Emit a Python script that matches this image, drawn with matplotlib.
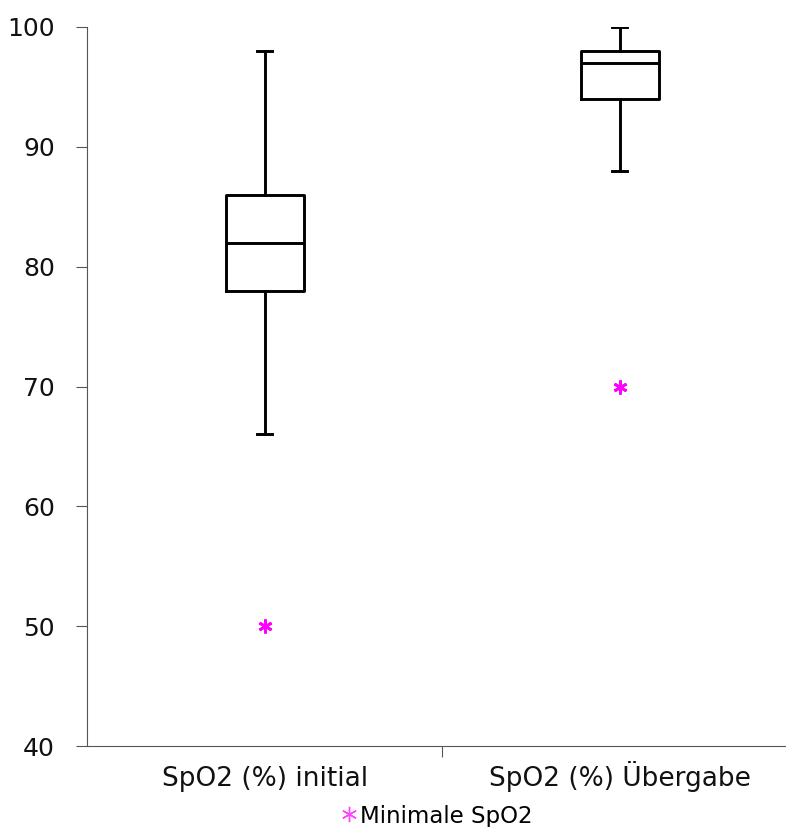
import matplotlib
matplotlib.use("Agg")
import matplotlib.pyplot as plt
import matplotlib.transforms as mtransforms
from matplotlib.lines import Line2D

plt.rcParams['font.family'] = ['DejaVu Sans']

categories = ["SpO2 (%) initial", "SpO2 (%) Übergabe"]
whisker_low = [66, 88]
q1 = [78, 94]
median = [82, 97]
q3 = [86, 98]
whisker_high = [98, 100]
min_spo2 = [50, 70]

stats = []
for i in range(len(categories)):
    stats.append({'whislo': whisker_low[i], 'q1': q1[i], 'med': median[i],
                  'q3': q3[i], 'whishi': whisker_high[i], 'label': categories[i]})

fig = plt.figure(figsize=(7.86, 8.27), dpi=100)
ax = fig.add_axes([87 / 786, 1 - 746 / 827, 710.5 / 786, 719 / 827])

pos = [1, 2]
lp = dict(color='black', linewidth=2.1)
ax.bxp(stats, positions=pos, widths=0.22, showfliers=False,
       boxprops=lp, whiskerprops=lp, capprops=lp, medianprops=lp,
       capwidths=0.042)

ax.plot(pos, min_spo2, linestyle='none', marker=(6, 2, 0), color='#ff00ff',
        markersize=10, markeredgewidth=2.0)

ax.set_xlim(0.5, 2.5)
ax.set_ylim(40, 100)
ax.set_yticks(range(40, 101, 10))
ax.set_xticks([1.5])
ax.set_xticklabels([])
ax.tick_params(axis='x', direction='out', length=8, color='#555555')
ax.tick_params(axis='y', direction='out', length=8, color='#555555',
               labelsize=18, pad=15, labelcolor='#111111')

# category labels on a common baseline below the axis
trans = mtransforms.blended_transform_factory(ax.transData, ax.transAxes)
off = mtransforms.ScaledTranslation(0, -40 / 100, fig.dpi_scale_trans)
for x, lab in zip(pos, categories):
    ax.text(x, 0, lab, transform=trans + off, ha='center', va='baseline',
            fontsize=19, color='#111111')

ax.spines['top'].set_visible(False)
ax.spines['right'].set_visible(False)
ax.spines['left'].set_color('#555555')
ax.spines['bottom'].set_color('#555555')

handle = Line2D([], [], linestyle='none', marker=(6, 2, 0), color='#ff44ff',
                markersize=11, markeredgewidth=1.0)
fig.legend([handle], ["Minimale SpO2"], loc='center',
           bbox_to_anchor=(435 / 786, 1 - 816 / 827), frameon=False,
           fontsize=16.5, handletextpad=0.0, handlelength=1.0,
           borderpad=0)

fig.savefig("out.png", dpi=100)
